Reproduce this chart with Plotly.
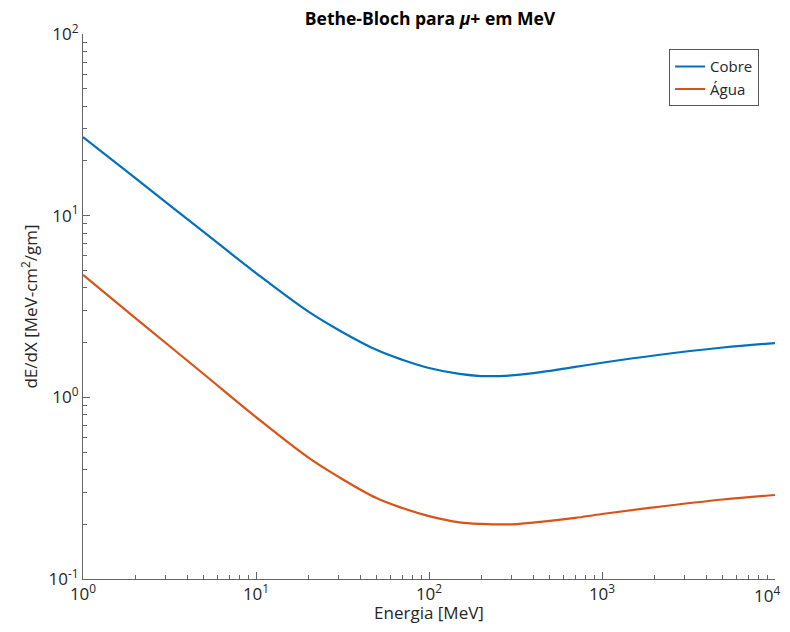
import plotly.graph_objects as go

energia = [1, 2, 5, 10, 20, 30, 50, 70, 100, 150, 200, 300, 500, 700, 1000, 2000, 5000, 10000]
cobre = [27.1, 16.13, 8.11, 4.83, 2.97, 2.35, 1.82, 1.61, 1.45, 1.345, 1.31, 1.32, 1.40, 1.47, 1.55, 1.70, 1.88, 1.99]
agua = [4.72, 2.74, 1.34, 0.778, 0.467, 0.365, 0.278, 0.246, 0.222, 0.205, 0.201, 0.200, 0.209, 0.217, 0.228, 0.248, 0.274, 0.290]

x_tickvals = [1, 10, 100, 1000, 10000]
x_ticktext = ["10<sup>0</sup>", "10<sup>1</sup>", "10<sup>2</sup>", "10<sup>3</sup>", "10<sup>4</sup>"]
y_tickvals = [0.1, 1, 10, 100]
y_ticktext = ["10<sup>-1</sup>", "10<sup>0</sup>", "10<sup>1</sup>", "10<sup>2</sup>"]

x_minor = [m * d for d in [1, 10, 100, 1000] for m in range(2, 10)]
y_minor = [m * d for d in [0.1, 1, 10] for m in range(2, 10)]

FONT = "Open Sans"
TXT = "#262626"
AX = "#666666"

fig = go.Figure()
fig.add_trace(go.Scatter(x=energia, y=cobre, mode="lines", name="Cobre",
                         line=dict(color="#0072BD", width=2.2, shape="spline", smoothing=1.0)))
fig.add_trace(go.Scatter(x=energia, y=agua, mode="lines", name="Água",
                         line=dict(color="#D95319", width=2.2, shape="spline", smoothing=1.0)))

axis_common = dict(
    showgrid=False, zeroline=False, showline=True, linecolor=AX, linewidth=1,
    ticks="inside", ticklen=7, tickcolor=AX, tickwidth=1,
    tickfont=dict(family=FONT, size=17, color=TXT),
    mirror=False, automargin=False, ticklabeloverflow="allow",
)

# last x tick label is drawn as an annotation so it is not clipped at the page edge
shown_x_ticktext = x_ticktext[:-1] + [""]

fig.update_xaxes(type="log", range=[0, 4], tickmode="array", tickvals=x_tickvals, ticktext=shown_x_ticktext,
                 minor=dict(tickmode="array", tickvals=x_minor, ticks="inside", ticklen=4,
                            tickcolor=AX, tickwidth=1, showgrid=False),
                 title=dict(text="Energia [MeV]", font=dict(family=FONT, size=17, color=TXT), standoff=6),
                 **axis_common)
fig.update_yaxes(type="log", range=[-1, 2], tickmode="array", tickvals=y_tickvals, ticktext=y_ticktext,
                 minor=dict(tickmode="array", tickvals=y_minor, ticks="inside", ticklen=4,
                            tickcolor=AX, tickwidth=1, showgrid=False),
                 title=dict(text="dE/dX [MeV-cm<sup>2</sup>/gm]", font=dict(family=FONT, size=17, color=TXT), standoff=6),
                 **axis_common)

fig.add_annotation(x=4, xref="x", y=0, yref="paper", text=x_ticktext[-1], showarrow=False,
                   xanchor="right", yanchor="top", xshift=7, yshift=-1,
                   font=dict(family=FONT, size=17, color=TXT))

W, H = 782, 616
fig.update_layout(
    width=W, height=H,
    margin=dict(l=75, r=15, t=26, b=45, autoexpand=False),
    paper_bgcolor="white", plot_bgcolor="white",
    title=dict(text="<b>Bethe-Bloch para <i>μ</i>+ em MeV</b>", x=422 / W, xanchor="center",
               yref="container", y=1 - 11 / H, yanchor="middle",
               font=dict(family=FONT, size=17.5, color="black")),
    legend=dict(x=0.977, y=0.972, xanchor="right", yanchor="top",
                bgcolor="white", bordercolor="#555555", borderwidth=1,
                font=dict(family=FONT, size=15, color=TXT),
                tracegroupgap=0, itemwidth=30),
    showlegend=True,
)

fig.write_html("out.html")
